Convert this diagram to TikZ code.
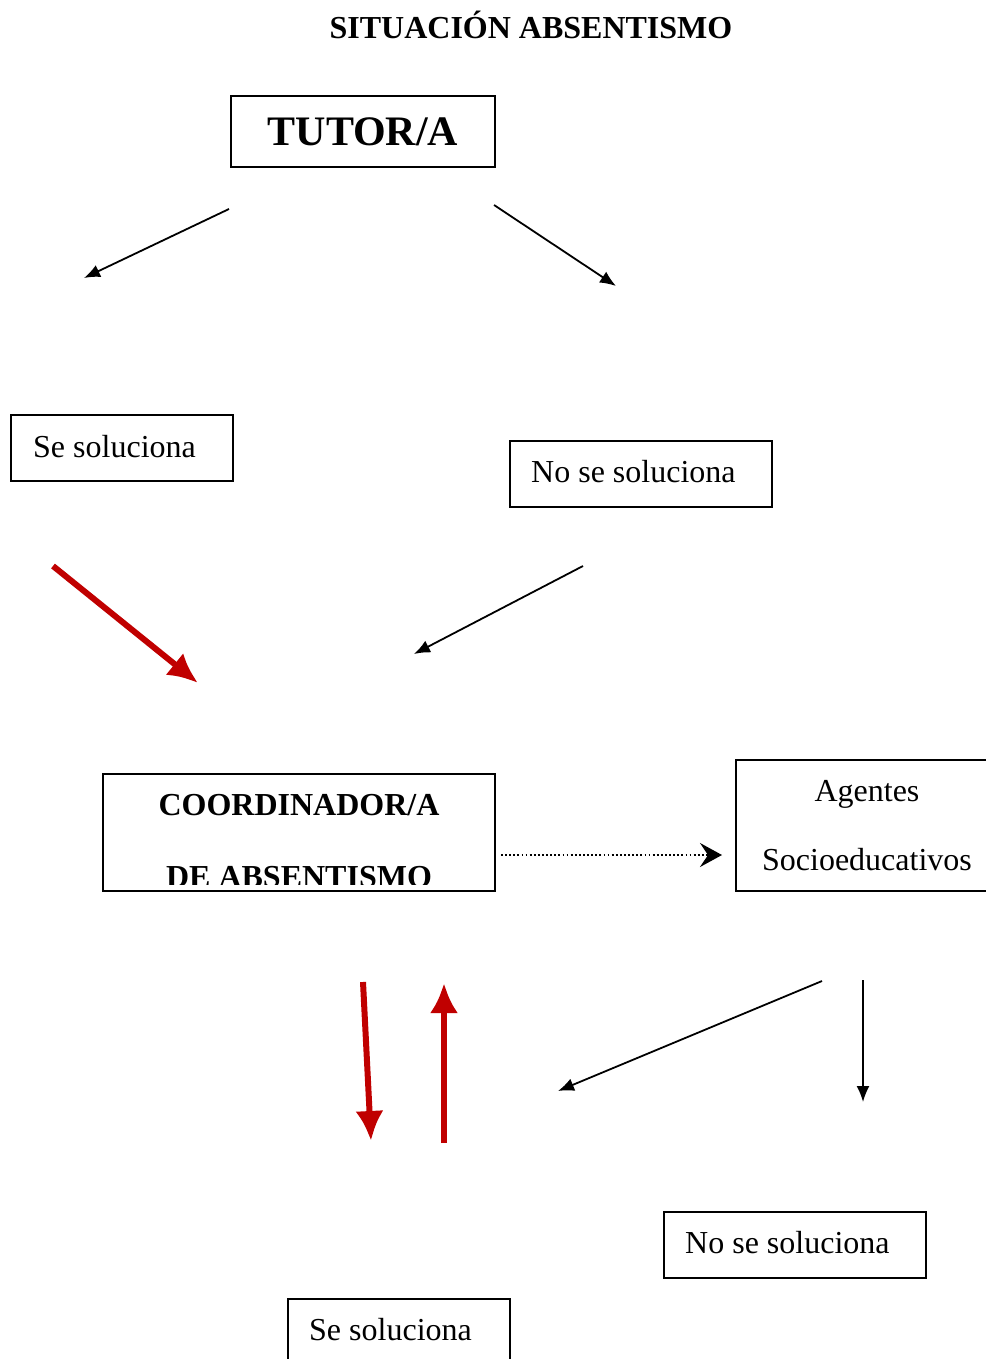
\documentclass[tikz,border=0pt]{standalone}
\usepackage{fontspec}
\setmainfont{Liberation Serif}
\usetikzlibrary{arrows.meta}
\definecolor{rouge}{RGB}{192,0,0}

\begin{document}
\begin{tikzpicture}[x=1pt,y=-1pt]
  \tikzstyle{fleche}=[-{Latex[length=16pt,width=13pt]},line width=1.8pt]
  \tikzstyle{grosse}=[-{Latex[length=30pt,width=28pt]},line width=6pt,color=rouge]
  \tikzstyle{boite}=[draw,line width=1.6pt,inner sep=0pt]
  \tikzstyle{texte}=[font=\fontsize{32}{38}\selectfont,inner sep=0pt]
  \tikzstyle{gras}=[font=\fontsize{32}{38}\selectfont\bfseries,inner sep=0pt]
  \useasboundingbox (0,0) rectangle (985,1359);
  % titre
  \node[gras] (titre) at (531,25) {SITUACIÓN ABSENTISMO};
  % tutor
  \node[boite,minimum width=264pt,minimum height=71pt,
    font=\fontsize{42}{50}\selectfont\bfseries] (tutor) at (363,131.5) {TUTOR/A};
  \coordinate (t1) at (229,209); \coordinate (t2) at (494,205);
  \coordinate (s1) at (84,278);  \coordinate (n1) at (616,286);
  \draw[fleche] (t1) -- (s1);
  \draw[fleche] (t2) -- (n1);
  % premier niveau
  \node[boite,minimum width=222pt,minimum height=66pt] (sesol) at (122,448) {};
  \node[texte,anchor=west] (sesolT) at (33,447) {Se soluciona};
  \node[boite,minimum width=262pt,minimum height=66pt] (nosol) at (641,474) {};
  \node[texte,anchor=west] (nosolT) at (531,472) {No se soluciona};
  \coordinate (r1) at (53,566);  \coordinate (r2) at (198,683);
  \coordinate (n2) at (583,566); \coordinate (n3) at (414,654);
  \draw[grosse] (r1) -- (r2);
  \draw[fleche] (n2) -- (n3);
  % coordinador
  \node[boite,minimum width=392pt,minimum height=117pt] (coord) at (299,832.5) {};
  \begin{scope}
    \clip (103,774) rectangle (495,884);
    \node[gras] (coordA) at (299,805) {COORDINADOR/A};
    \node[gras] (coordB) at (299,877) {DE ABSENTISMO};
  \end{scope}
  \node[boite,minimum width=254pt,minimum height=131pt] (agentes) at (863,825.5) {};
  \node[texte] (agA) at (867,794) {Agentes};
  \node[texte] (agB) at (867,860) {Socioeducativos};
  \coordinate (d1) at (501,855); \coordinate (d2) at (722,855);
  \draw[line width=1.8pt,dash pattern=on 1.8pt off 2.3pt,
    -{Stealth[length=22pt,width=24pt,inset=8pt]}] (d1) -- (d2);
  % retour
  \coordinate (r3) at (363,982);  \coordinate (r4) at (371,1141);
  \coordinate (r5) at (444,1143); \coordinate (r6) at (444,983);
  \draw[grosse] (r3) -- (r4);
  \draw[grosse] (r5) -- (r6);
  \coordinate (a1) at (822,981); \coordinate (a2) at (558,1091);
  \coordinate (a3) at (863,980); \coordinate (a4) at (863,1102);
  \draw[fleche] (a1) -- (a2);
  \draw[fleche] (a3) -- (a4);
  % dernier niveau
  \node[boite,minimum width=262pt,minimum height=66pt] (nosolB) at (795,1245) {};
  \node[texte,anchor=west] (nosolBT) at (685,1243) {No se soluciona};
  \node[boite,minimum width=222pt,minimum height=70pt] (sesolB) at (399,1334) {};
  \node[texte,anchor=west] (sesolBT) at (309,1330) {Se soluciona};
\end{tikzpicture}
\end{document}
